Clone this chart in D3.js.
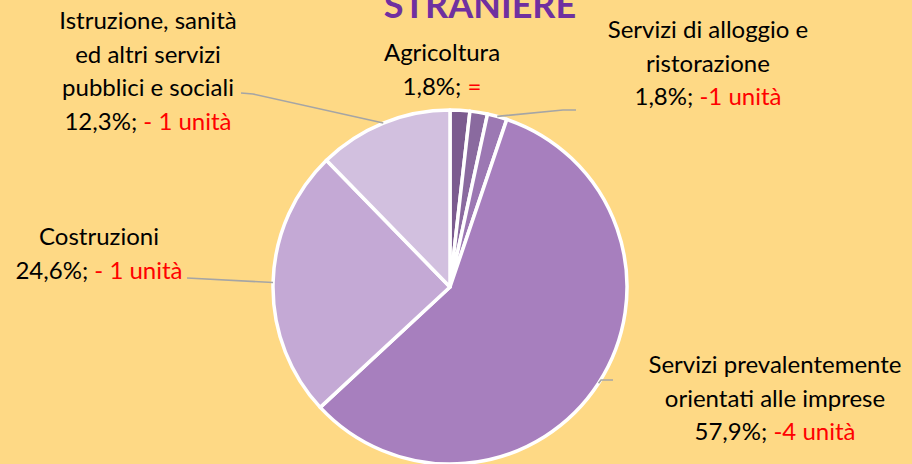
<!DOCTYPE html>
<html>
<head>
<meta charset="utf-8">
<script src="https://cdn.jsdelivr.net/npm/d3@7/dist/d3.min.js"></script>
<style>
  html, body { margin: 0; padding: 0; background: #FED985; }
  svg { display: block; }
</style>
</head>
<body>
<svg id="chart" width="912" height="464"></svg>
<script>
// ---- data ----
const categories = [
  "Agricoltura",
  "Industria",
  "Servizi di alloggio e ristorazione",
  "Servizi prevalentemente orientati alle imprese",
  "Costruzioni",
  "Istruzione, sanità ed altri servizi pubblici e sociali"
];
const shares = [1.8, 1.6, 1.8, 57.9, 24.6, 12.3];
const shareLabels = ["1,8%", "", "1,8%", "57,9%", "24,6%", "12,3%"];
const changeLabels = ["=", "", "-1 unità", "-4 unità", "- 1 unità", "- 1 unità"];
const nameLines = [
  ["Agricoltura"],
  [],
  ["Servizi di alloggio e", "ristorazione"],
  ["Servizi prevalentemente", "orientati alle imprese"],
  ["Costruzioni"],
  ["Istruzione, sanità", "ed altri servizi", "pubblici e sociali"]
];
const sliceColors = ["#7B5B8F", "#8A6A9F", "#9C78B3", "#A77FBE", "#C4A9D5", "#D2C0DF"];
const titleText = "STRANIERE";

// ---- layout ----
const W = 912, H = 464;
const cx = 450, cy = 287, R = 177;
const fontFamily = "Lato, 'Open Sans', sans-serif";
const lineH = 33.5;
const labelLayout = [
  { x: 442, y: 61, leader: null },
  null,
  { x: 708, y: 38, leader: [[563, 110], [576, 110]] },
  { x: 775, y: 373, leader: [[601, 380], [613, 380]] },
  { x: 99, y: 245, leader: [[187, 278]] },
  { x: 148, y: 29, leader: [[253, 94], [241, 93]] }
];

const svg = d3.select("#chart");

const data = categories.map((c, i) => ({ name: c, value: shares[i], i }));
const pie = d3.pie().value(d => d.value).sort(null)
  .startAngle(0).endAngle(2 * Math.PI);
const arcs = pie(data);
const arc = d3.arc().innerRadius(0).outerRadius(R);
const color = d3.scaleOrdinal().domain(categories).range(sliceColors);

const g = svg.append("g").attr("transform", `translate(${cx},${cy})`);

g.selectAll("path.slice")
  .data(arcs)
  .join("path")
  .attr("class", "slice")
  .attr("d", arc)
  .attr("fill", d => color(d.data.name))
  .attr("stroke", "#FFFFFF")
  .attr("stroke-width", 3.5)
  .attr("stroke-linejoin", "round");

// leader lines
arcs.forEach((a, i) => {
  const L = labelLayout[i];
  if (!L || !L.leader) return;
  const mid = (a.startAngle + a.endAngle) / 2;
  const start = [cx + R * Math.sin(mid), cy - R * Math.cos(mid)];
  const pts = [start].concat(L.leader);
  svg.append("path")
    .attr("d", d3.line()(pts))
    .attr("fill", "none")
    .attr("stroke", "#A5A5A5")
    .attr("stroke-width", 1.6);
});

// labels
arcs.forEach((a, i) => {
  const L = labelLayout[i];
  if (!L) return;
  const t = svg.append("text")
    .attr("text-anchor", "middle")
    .attr("font-family", fontFamily)
    .attr("font-size", 24)
    .attr("fill", "#000000");
  const lines = nameLines[i];
  lines.forEach((ln, k) => {
    t.append("tspan").attr("x", L.x).attr("y", L.y + k * lineH).text(ln);
  });
  const last = t.append("tspan").attr("x", L.x).attr("y", L.y + lines.length * lineH);
  last.append("tspan").text(shareLabels[i] + "; ");
  last.append("tspan").attr("fill", "#FF0000").text(changeLabels[i]);
});

// title (cut off at top, as in the original)
svg.append("text")
  .attr("x", 480)
  .attr("y", 18)
  .attr("text-anchor", "middle")
  .attr("font-family", fontFamily)
  .attr("font-weight", "bold")
  .attr("font-size", 36)
  .attr("fill", "#7030A0")
  .text(titleText);
</script>
</body>
</html>
